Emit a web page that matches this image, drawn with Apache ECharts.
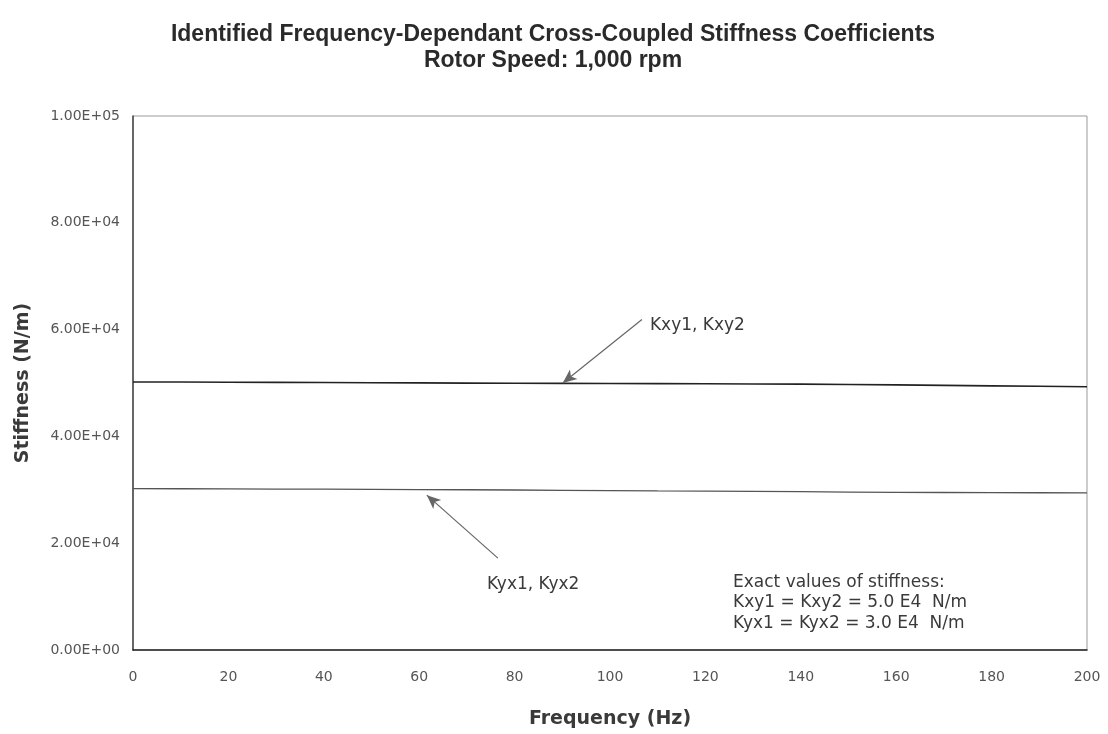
<!DOCTYPE html>
<html>
<head>
<meta charset="utf-8">
<script src="https://cdn.jsdelivr.net/npm/echarts@6/dist/echarts.min.js"></script>
<style>
  html, body { margin: 0; padding: 0; background: #fff; }
  #chart { width: 1108px; height: 734px; }
</style>
</head>
<body>
<div id="chart"></div>
<script>
// Frequency points (Hz)
const frequency = [0, 10, 20, 30, 40, 50, 60, 70, 80, 90, 100, 110, 120, 130, 140, 150, 160, 170, 180, 190, 200];
// Identified cross-coupled stiffness (N/m)
const kxy = [50200, 50180, 50150, 50120, 50090, 50060, 50020, 49980, 49950, 49930, 49900, 49880, 49850, 49820, 49780, 49720, 49640, 49560, 49470, 49380, 49300];
const kyx = [30220, 30200, 30170, 30140, 30110, 30080, 30040, 30010, 29960, 29900, 29850, 29800, 29760, 29700, 29640, 29580, 29520, 29490, 29470, 29450, 29430];
// Y tick values
const yTicks = [0, 20000, 40000, 60000, 80000, 100000];

// Callout arrows: [tail, head] in data coordinates
const kxyArrow = [[106.7, 61900], [90.1, 50000]];
const kyxArrow = [[76.5, 17200], [61.6, 29000]];

function sci(v) {
  if (v === 0) return '0.00E+00';
  const e = Math.floor(Math.log10(Math.abs(v)));
  const m = v / Math.pow(10, e);
  const es = (e < 0 ? '-' : '+') + String(Math.abs(e)).padStart(2, '0');
  return m.toFixed(2) + 'E' + es;
}

const chart = echarts.init(document.getElementById('chart'), null, { renderer: 'canvas' });
const font = 'DejaVu Sans, Arial, sans-serif';

function pairs(xs, ys) { return xs.map((x, i) => [x, ys[i]]); }

function arrowLine(a) {
  return [{ coord: a[0], symbol: 'none' }, { coord: a[1], symbol: 'arrow', symbolSize: [9, 14] }];
}

chart.setOption({
  backgroundColor: '#fff',
  animation: false,
  title: {
    text: 'Identified Frequency-Dependant Cross-Coupled Stiffness Coefficients\nRotor Speed: 1,000 rpm',
    left: 548, top: 17, textAlign: 'center',
    textStyle: { fontFamily: 'Liberation Sans, Arial', fontWeight: 'bold', fontSize: 23, lineHeight: 26, color: '#2a2a2a' }
  },
  grid: { left: 133, right: 21, top: 116, bottom: 82, show: true, borderColor: '#999', borderWidth: 1 },
  xAxis: {
    type: 'value', min: 0, max: 200, interval: 20,
    name: 'Frequency (Hz)', nameLocation: 'middle', nameGap: 60,
    nameTextStyle: { fontFamily: font, fontWeight: 'bold', fontSize: 19, color: '#3a3a3a' },
    axisLine: { show: true, onZero: false, lineStyle: { color: '#222', width: 1.5 } },
    axisTick: { show: false },
    splitLine: { show: false },
    axisLabel: { margin: 20, fontFamily: font, fontSize: 14, color: '#555' }
  },
  yAxis: {
    type: 'value', min: 0, max: 100000, interval: 20000,
    name: 'Stiffness (N/m)', nameLocation: 'middle', nameGap: 100, nameRotate: 90,
    nameTextStyle: { fontFamily: font, fontWeight: 'bold', fontSize: 19, color: '#3a3a3a' },
    axisLine: { show: true, lineStyle: { color: '#444', width: 1.5 } },
    axisTick: { show: false },
    splitLine: { show: false },
    axisLabel: { margin: 13, fontFamily: font, fontSize: 14, color: '#555', formatter: v => yTicks.includes(v) ? sci(v) : '' }
  },
  series: [
    {
      name: 'Kxy1, Kxy2', type: 'line', data: pairs(frequency, kxy), showSymbol: false,
      lineStyle: { color: '#222', width: 1.6 },
      markLine: {
        silent: true, label: { show: false },
        lineStyle: { color: '#666', width: 1.2, type: 'solid' },
        data: [arrowLine(kxyArrow)]
      }
    },
    {
      name: 'Kyx1, Kyx2', type: 'line', data: pairs(frequency, kyx), showSymbol: false,
      lineStyle: { color: '#555', width: 1.3 },
      markLine: {
        silent: true, label: { show: false },
        lineStyle: { color: '#666', width: 1.2, type: 'solid' },
        data: [arrowLine(kyxArrow)]
      }
    }
  ]
});

// Callout labels placed next to the arrow tails
const pKxy = chart.convertToPixel({ gridIndex: 0 }, kxyArrow[0]);
const pKyx = chart.convertToPixel({ gridIndex: 0 }, kyxArrow[0]);
const labelStyle = { fontFamily: font, fontSize: 17, fill: '#3a3a3a', lineHeight: 20.5 };

chart.setOption({
  graphic: [
    { type: 'text', left: pKxy[0] + 8, top: pKxy[1] - 4, style: Object.assign({ text: 'Kxy1, Kxy2' }, labelStyle) },
    { type: 'text', left: pKyx[0] - 11, top: pKyx[1] + 16, style: Object.assign({ text: 'Kyx1, Kyx2' }, labelStyle) },
    { type: 'text', left: 733, top: 572, style: Object.assign({ text: 'Exact values of stiffness:\nKxy1 = Kxy2 = 5.0 E4  N/m\nKyx1 = Kyx2 = 3.0 E4  N/m' }, labelStyle) }
  ]
});
</script>
</body>
</html>
